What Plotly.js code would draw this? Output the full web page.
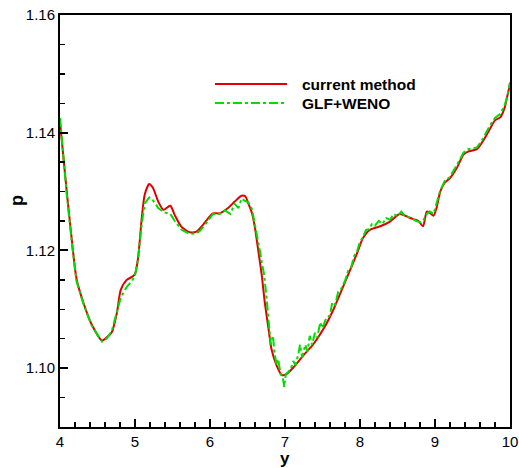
<!DOCTYPE html>
<html>
<head>
<meta charset="utf-8">
<script src="https://cdn.plot.ly/plotly-3.0.1.min.js"></script>
<style>html,body{margin:0;padding:0;background:#fff;}#chart{width:519px;height:468px;}</style>
</head>
<body>
<div id="chart"></div>
<script>
// current method
const currentX = [4.0, 4.09, 4.16, 4.22, 4.31, 4.42, 4.56, 4.62, 4.69, 4.76, 4.81, 4.89, 4.96, 5.0, 5.04, 5.09, 5.13, 5.19, 5.24, 5.31, 5.38, 5.47, 5.53, 5.62, 5.73, 5.82, 5.87, 5.96, 6.04, 6.13, 6.24, 6.33, 6.42, 6.47, 6.51, 6.56, 6.6, 6.64, 6.69, 6.73, 6.78, 6.82, 6.89, 6.96, 7.02, 7.11, 7.24, 7.38, 7.52, 7.64, 7.73, 7.82, 7.96, 8.04, 8.13, 8.27, 8.4, 8.53, 8.67, 8.78, 8.84, 8.89, 8.92, 8.98, 9.02, 9.07, 9.13, 9.2, 9.29, 9.38, 9.44, 9.56, 9.64, 9.73, 9.8, 9.87, 9.93, 9.96, 9.99, 10.0];
const currentP = [1.1418, 1.1300, 1.1215, 1.1152, 1.1112, 1.1075, 1.1047, 1.1052, 1.1061, 1.1095, 1.1133, 1.1150, 1.1155, 1.1160, 1.1186, 1.1255, 1.1295, 1.1313, 1.1306, 1.1283, 1.1269, 1.1276, 1.1260, 1.1240, 1.1231, 1.1232, 1.1238, 1.1252, 1.1263, 1.1263, 1.1272, 1.1283, 1.1293, 1.1292, 1.1280, 1.1263, 1.1238, 1.1203, 1.1158, 1.1112, 1.1067, 1.1032, 1.1004, 1.0988, 1.0990, 1.1001, 1.1021, 1.1041, 1.1068, 1.1098, 1.1125, 1.1152, 1.1195, 1.1221, 1.1235, 1.1241, 1.1249, 1.1262, 1.1255, 1.1250, 1.1241, 1.1266, 1.1265, 1.1259, 1.1272, 1.1300, 1.1315, 1.1323, 1.1340, 1.1363, 1.1368, 1.1372, 1.1386, 1.1406, 1.1421, 1.1426, 1.1443, 1.1460, 1.1477, 1.1485];

// GLF+WENO
const glfX = [4.0, 4.09, 4.16, 4.22, 4.31, 4.42, 4.56, 4.62, 4.69, 4.76, 4.81, 4.89, 4.96, 5.0, 5.04, 5.09, 5.13, 5.19, 5.24, 5.31, 5.38, 5.47, 5.53, 5.62, 5.73, 5.82, 5.87, 5.96, 6.04, 6.13, 6.2, 6.27, 6.33, 6.38, 6.42, 6.47, 6.51, 6.56, 6.6, 6.64, 6.67, 6.69, 6.72, 6.75, 6.78, 6.81, 6.84, 6.86, 6.89, 6.91, 6.94, 6.97, 6.99, 7.01, 7.04, 7.08, 7.11, 7.14, 7.18, 7.2, 7.23, 7.27, 7.3, 7.33, 7.36, 7.4, 7.43, 7.47, 7.5, 7.55, 7.6, 7.63, 7.67, 7.71, 7.75, 7.8, 7.84, 7.88, 7.92, 7.96, 8.0, 8.04, 8.08, 8.12, 8.16, 8.2, 8.25, 8.3, 8.35, 8.4, 8.45, 8.5, 8.55, 8.6, 8.67, 8.75, 8.8, 8.84, 8.89, 8.93, 8.98, 9.02, 9.07, 9.13, 9.2, 9.29, 9.38, 9.44, 9.56, 9.64, 9.73, 9.8, 9.87, 9.93, 9.97, 10.0];
const glfP = [1.1425, 1.1295, 1.1210, 1.1148, 1.1110, 1.1073, 1.1045, 1.1050, 1.1063, 1.1098, 1.1120, 1.1138, 1.1148, 1.1158, 1.1185, 1.1245, 1.1280, 1.1290, 1.1285, 1.1272, 1.1265, 1.1262, 1.1250, 1.1235, 1.1228, 1.1229, 1.1234, 1.1248, 1.1262, 1.1262, 1.1268, 1.1262, 1.1279, 1.1272, 1.1288, 1.1284, 1.1282, 1.1270, 1.1245, 1.1215, 1.1196, 1.1180, 1.1160, 1.1125, 1.1080, 1.1040, 1.1055, 1.1025, 1.1005, 1.1015, 1.0990, 1.0985, 1.0968, 1.0990, 1.0993, 1.1000, 1.1012, 1.1005, 1.1025, 1.1040, 1.1018, 1.1040, 1.1028, 1.1055, 1.1040, 1.1060, 1.1052, 1.1078, 1.1068, 1.1085, 1.1090, 1.1112, 1.1108, 1.1130, 1.1135, 1.1148, 1.1165, 1.1170, 1.1190, 1.1198, 1.1215, 1.1222, 1.1235, 1.1236, 1.1245, 1.1242, 1.1250, 1.1245, 1.1255, 1.1252, 1.1262, 1.1258, 1.1266, 1.1258, 1.1256, 1.1250, 1.1248, 1.1250, 1.1262, 1.1266, 1.1262, 1.1278, 1.1302, 1.1318, 1.1325, 1.1345, 1.1366, 1.1372, 1.1375, 1.1390, 1.1412, 1.1425, 1.1432, 1.1447, 1.1465, 1.1485];

const seriesNames = ['current method', 'GLF+WENO'];
const xTickVals = [4, 5, 6, 7, 8, 9, 10];
const yTickVals = [1.10, 1.12, 1.14, 1.16];

const FONT = 'Liberation Sans, Arial, Helvetica, sans-serif';

const traces = [
  {x: currentX, y: currentP, name: seriesNames[0], type: 'scatter', mode: 'lines',
   line: {color: '#e00000', width: 2, shape: 'spline', smoothing: 0.7}},
  {x: glfX, y: glfP, name: seriesNames[1], type: 'scatter', mode: 'lines',
   line: {color: '#00dd00', width: 2, dash: 'dashdot'}}
];

const layout = {
  width: 519, height: 468,
  margin: {l: 60, r: 9, t: 15, b: 41},
  paper_bgcolor: '#fff', plot_bgcolor: '#fff',
  showlegend: false,
  font: {family: FONT, color: '#000', size: 15},
  xaxis: {
    range: [4, 10], tickvals: xTickVals, ticktext: xTickVals.map(String),
    ticks: 'inside', ticklen: 8, tickwidth: 2, tickcolor: '#000',
    minor: {dtick: 0.2, ticks: 'inside', ticklen: 5, tickwidth: 1.5, tickcolor: '#000'},
    showline: true, linewidth: 2, linecolor: '#000', mirror: true,
    showgrid: false, zeroline: false,
    tickfont: {size: 15, family: FONT}
  },
  yaxis: {
    range: [1.09, 1.16], tickvals: yTickVals, ticktext: yTickVals.map(v => v.toFixed(2)),
    ticks: 'inside', ticklen: 8, tickwidth: 2, tickcolor: '#000',
    minor: {dtick: 0.005, ticks: 'inside', ticklen: 5, tickwidth: 1.5, tickcolor: '#000'},
    showline: true, linewidth: 2, linecolor: '#000', mirror: true,
    showgrid: false, zeroline: false,
    tickfont: {size: 15, family: FONT}
  },
  shapes: [
    {type: 'line', xref: 'paper', yref: 'paper', x0: 0.3444, x1: 0.5044, y0: 0.8325, y1: 0.8325,
     line: {color: '#e00000', width: 2}},
    {type: 'line', xref: 'paper', yref: 'paper', x0: 0.3444, x1: 0.5044, y0: 0.7864, y1: 0.7864,
     line: {color: '#00dd00', width: 2, dash: 'dashdot'}}
  ],
  annotations: [
    {xref: 'paper', yref: 'paper', x: 0.5333, y: 0.8325, xanchor: 'left', yanchor: 'middle',
     text: '<b>' + seriesNames[0] + '</b>', showarrow: false, font: {size: 15.5, family: FONT}},
    {xref: 'paper', yref: 'paper', x: 0.5333, y: 0.7864, xanchor: 'left', yanchor: 'middle',
     text: '<b>' + seriesNames[1] + '</b>', showarrow: false, font: {size: 15.5, family: FONT}},
    {xref: 'paper', yref: 'paper', x: -0.0956, y: 0.551, xanchor: 'center', yanchor: 'middle',
     text: '<b>p</b>', textangle: -90, showarrow: false, font: {size: 18, family: FONT}},
    {xref: 'paper', yref: 'paper', x: 0.5, y: -0.051, xanchor: 'center', yanchor: 'top',
     text: '<b>y</b>', showarrow: false, font: {size: 17, family: FONT}, borderpad: 0}
  ]
};

Plotly.newPlot('chart', traces, layout, {staticPlot: true, displayModeBar: false});
</script>
</body>
</html>
